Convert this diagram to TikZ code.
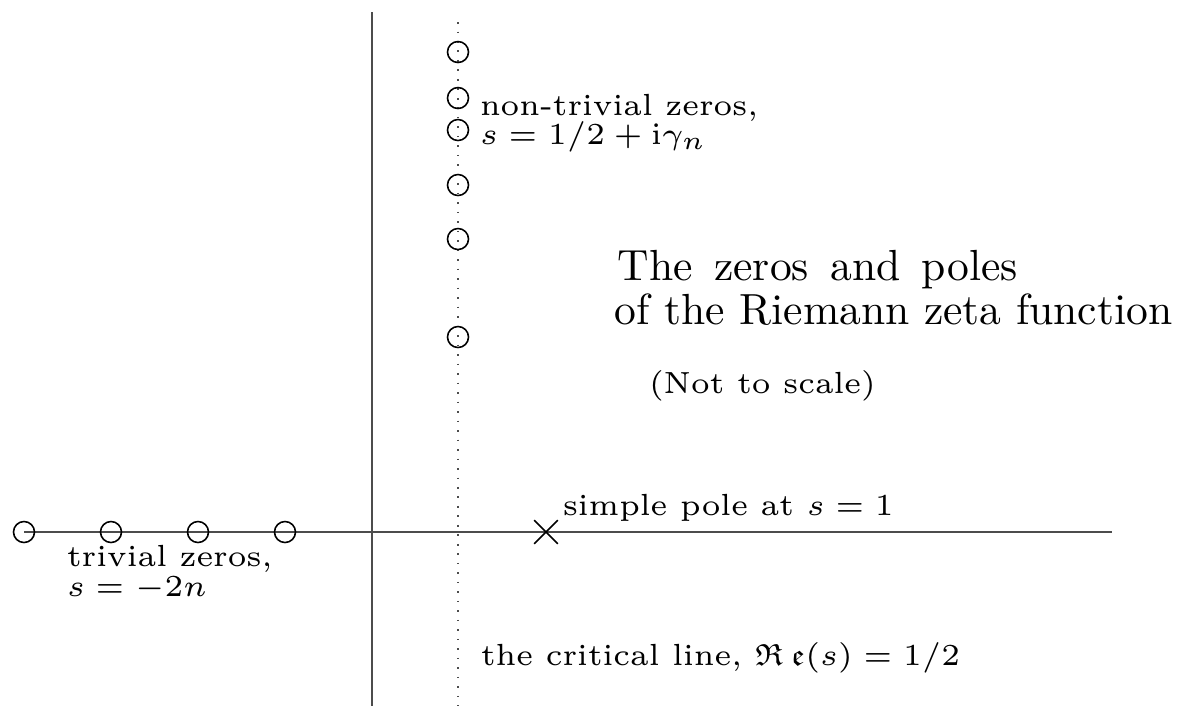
\documentclass[tikz,border=0pt]{standalone}
\usepackage{amssymb}
\usetikzlibrary{shapes.misc}
\tikzset{
  axis/.style={draw=black!70,line width=0.45pt},
  critline/.style={draw=black!70,line width=0.45pt,dash pattern=on 0.45pt off 2.25pt},
  zero/.style={circle,draw=black,line width=0.45pt,minimum size=2.1mm,inner sep=0pt},
  pole/.style={cross out,draw=black,line width=0.45pt,minimum size=2.2mm,inner sep=0pt},
  lbl/.style={font=\fontsize{6}{7.2}\selectfont,scale=1.45,inner sep=0pt,anchor=base west},
  title/.style={font=\fontsize{10}{12}\selectfont,scale=1.24,inner sep=0pt,anchor=base west}
}
\newcommand{\widespace}{\spaceskip=4.9pt plus 1pt\relax}
\begin{document}
\begin{tikzpicture}[x=0.1mm,y=-0.1mm]
\useasboundingbox (0,0) rectangle (1185,711);
% axes
\coordinate (hl) at (24,532);
\coordinate (hr) at (1112,532);
\coordinate (vt) at (372,12);
\coordinate (vb) at (372,706);
\coordinate (ct) at (458,22);
\coordinate (cb) at (458,706);
\draw[axis] (hl) -- (hr);
\draw[axis] (vt) -- (vb);
\draw[critline] (ct) -- (cb);
% trivial zeros
\node[zero] (t1) at (24,532) {};
\node[zero] (t2) at (111,532) {};
\node[zero] (t3) at (198,532) {};
\node[zero] (t4) at (285,532) {};
% non-trivial zeros
\node[zero] (n1) at (458,52) {};
\node[zero] (n2) at (458,98) {};
\node[zero] (n3) at (458,130) {};
\node[zero] (n4) at (458,185) {};
\node[zero] (n5) at (458,239) {};
\node[zero] (n6) at (458,337) {};
% pole
\node[pole] (p) at (546,532) {};
% labels
\node[lbl,text depth=0pt] (ntz1) at (479,115) {non-trivial zeros,};
\node[lbl] (ntz2) at (479,144) {$s=1/2+\mathrm{i}\gamma_n$};
\node[lbl,text depth=0pt] (tz1) at (66,566) {trivial zeros,};
\node[lbl] (tz2) at (66,596) {$s=-2n$};
\node[lbl] (pl) at (562,515) {simple pole at $s=1$};
\node[lbl] (cl) at (480,665) {the critical line, $\mathfrak{R}\,\mathfrak{e}(s)=1/2$};
\node[title] (ti1) at (617,280) {\widespace The zeros and poles};
\node[title] (ti2) at (614,324) {of the Riemann zeta function};
\node[lbl] (nts) at (648,393) {(Not to scale)};
\end{tikzpicture}
\end{document}
